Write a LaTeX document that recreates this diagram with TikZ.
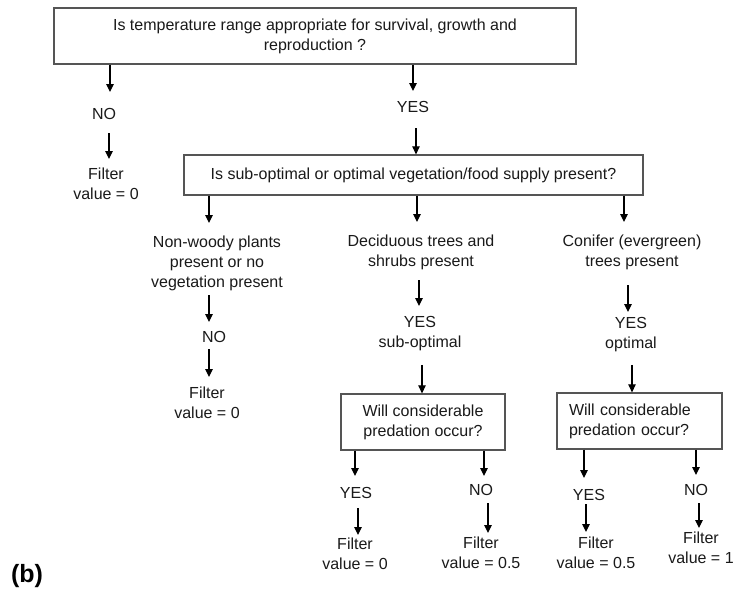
\documentclass[tikz,border=0pt]{standalone}
\usepackage{fontspec}
\setmainfont{Liberation Sans}
\usetikzlibrary{arrows.meta}
\definecolor{boxline}{HTML}{555555}
\definecolor{ink}{HTML}{1A1A1A}
\begin{document}
\begin{tikzpicture}[x=1pt,y=-1pt,
  txt/.style={font=\fontsize{16}{20}\selectfont, text=ink, align=center, inner sep=0pt, anchor=north},
  qbox/.style={draw=boxline, line width=1.3pt, font=\fontsize{16}{20}\selectfont, text=ink, align=center, inner sep=0pt},
  arr/.style={draw=black, line width=1.1pt, -{Triangle[length=8pt,width=7.5pt]}}]
\useasboundingbox[fill=white] (0,0) rectangle (734,592);

% decision boxes
\node[qbox, minimum width=522pt, minimum height=56pt] (q1) at (315,36)
  {Is temperature range appropriate for survival, growth and\\reproduction ?};
\node[qbox, minimum width=459pt, minimum height=40pt] (q2) at (413.5,175)
  {Is sub-optimal or optimal vegetation/food supply present?};
\node[qbox, minimum width=164pt, minimum height=56pt] (q3) at (423,422)
  {Will considerable\\predation occur?};
\node[qbox, text width=141pt, align=left, inner xsep=12pt, minimum height=56pt] (q4) at (639.5,421)
  {Will considerable\\predation occur?};

% outcome labels
\node[txt] (no1) at (104,108.25) {NO};
\node[txt] (f1) at (106,167.25) {Filter\\value = 0};
\node[txt] (yes1) at (413,101.25) {YES};

\node[txt] (nw) at (217,235.25) {Non-woody plants\\present or no\\vegetation present};
\node[txt] (no2) at (214,331.25) {NO};
\node[txt] (f2) at (207,386.75) {Filter\\value = 0};

\node[txt] (dec) at (421,234.25) {Deciduous trees and\\shrubs present};
\node[txt] (yes2) at (420,316.25) {YES\\sub-optimal};

\node[txt] (con) at (632,234.25) {Conifer (evergreen)\\trees present};
\node[txt] (yes3) at (631,317.25) {YES\\optimal};

\node[txt] (y4) at (356,487.25) {YES};
\node[txt] (f4) at (355,537.25) {Filter\\value = 0};
\node[txt] (n4) at (481,484.25) {NO};
\node[txt] (f5) at (481,536.25) {Filter\\value = 0.5};

\node[txt] (y5) at (589,489.25) {YES};
\node[txt] (f6) at (596,536.25) {Filter\\value = 0.5};
\node[txt] (n5) at (696,484.25) {NO};
\node[txt] (f7) at (701,531.25) {Filter\\value = 1};

\node[font=\bfseries\fontsize{25}{30}\selectfont, text=black, inner sep=0pt] (tag) at (27,576) {(b)};

% connectors
\draw[arr, shorten >=16.25pt] (q1.south -| 110,0) -- (no1.north -| 110,0);
\draw[arr, shorten <=13.25pt, shorten >=8.25pt] (no1.south -| 109,0) -- (f1.north -| 109,0);
\draw[arr, shorten >=10.25pt] (q1.south -| 413,0) -- (yes1.north -| 413,0);
\draw[arr, shorten <=15.25pt] (yes1.south -| 416,0) -- (q2.north -| 416,0);

\draw[arr, shorten >=12.25pt] (q2.south -| 209,0) -- (nw.north -| 209,0);
\draw[arr, shorten <=4.85pt, shorten >=9.25pt] (nw.south -| 209,0) -- (no2.north -| 209,0);
\draw[arr, shorten <=6.25pt, shorten >=9.75pt] (no2.south -| 209,0) -- (f2.north -| 209,0);

\draw[arr, shorten >=12.25pt] (q2.south -| 417,0) -- (dec.north -| 417,0);
\draw[arr, shorten <=10.85pt, shorten >=10.25pt] (dec.south -| 419,0) -- (yes2.north -| 419,0);
\draw[arr, shorten <=13.85pt] (yes2.south -| 422,0) -- (q3.north -| 422,0);

\draw[arr, shorten >=12.25pt] (q2.south -| 624,0) -- (con.north -| 624,0);
\draw[arr, shorten <=15.85pt, shorten >=5.25pt] (con.south -| 628,0) -- (yes3.north -| 628,0);
\draw[arr, shorten <=12.85pt] (yes3.south -| 632,0) -- (q4.north -| 632,0);

\draw[arr, shorten >=11.25pt] (q3.south -| 355,0) -- (y4.north -| 355,0);
\draw[arr, shorten <=9.25pt, shorten >=2.25pt] (y4.south -| 358,0) -- (f4.north -| 358,0);
\draw[arr, shorten >=8.25pt] (q3.south -| 484,0) -- (n4.north -| 484,0);
\draw[arr, shorten <=7.25pt, shorten >=3.25pt] (n4.south -| 488,0) -- (f5.north -| 488,0);

\draw[arr, shorten >=11.25pt] (q4.south -| 584,0) -- (y5.north -| 584,0);
\draw[arr, shorten <=3.25pt, shorten >=4.25pt] (y5.south -| 586,0) -- (f6.north -| 586,0);
\draw[arr, shorten >=9.25pt] (q4.south -| 696,0) -- (n5.north -| 696,0);
\draw[arr, shorten <=7.25pt, shorten >=3.25pt] (n5.south -| 699,0) -- (f7.north -| 699,0);
\end{tikzpicture}
\end{document}
